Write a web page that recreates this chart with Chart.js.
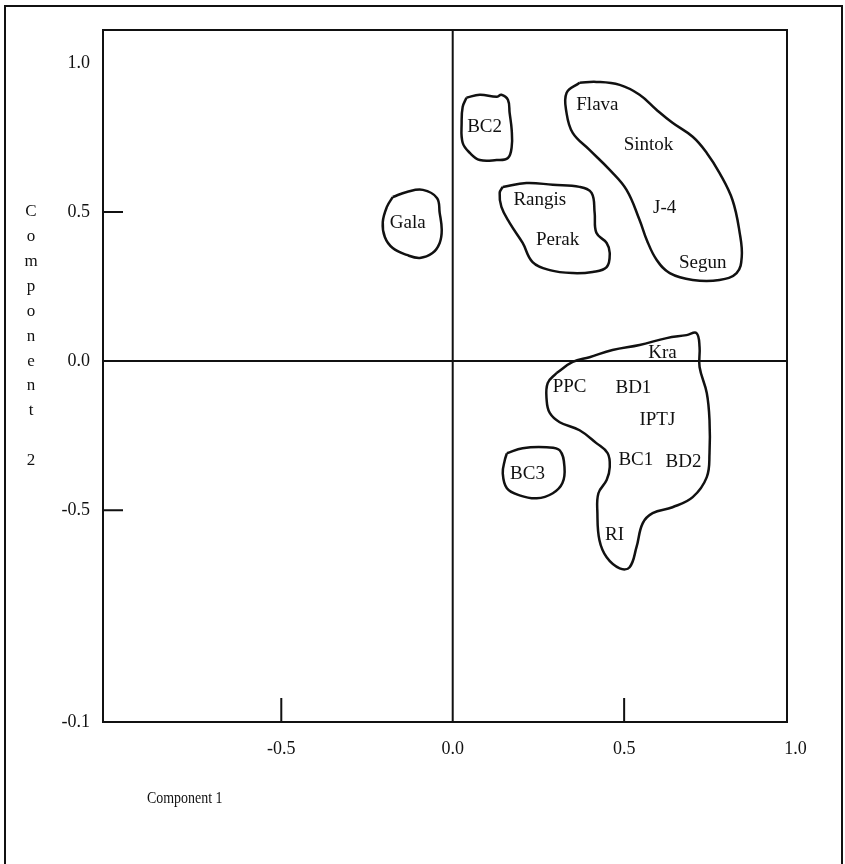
<!DOCTYPE html>
<html lang="en">
<head>
<meta charset="UTF-8">
<title>Component plot</title>
<script src="https://cdn.jsdelivr.net/npm/chart.js"></script>
<style>
  html, body { margin: 0; padding: 0; background: #fff; }
  #wrap { width: 845px; height: 864px; }
</style>
</head>
<body>
<div id="wrap"><canvas id="myChart" width="845" height="864"></canvas></div>
<script>
// cultivars: position on component 1 (x) and component 2 (y)
const names = ['BC2', 'Flava', 'Sintok', 'Rangis', 'Gala', 'J-4', 'Perak', 'Segun',
               'Kra', 'PPC', 'BD1', 'IPTJ', 'BC1', 'BD2', 'BC3', 'RI'];
const comp1 = [0.093, 0.422, 0.571, 0.254, -0.131, 0.618, 0.306, 0.729,
               0.612, 0.341, 0.527, 0.597, 0.534, 0.673, 0.218, 0.472];
const comp2 = [0.785, 0.859, 0.725, 0.540, 0.463, 0.513, 0.406, 0.329,
               0.027, -0.087, -0.091, -0.198, -0.332, -0.339, -0.379, -0.584];

// axes (bottom tick of the original is printed "-0.1")
const xMin = -1.02, xMax = 0.975;
const yMin = -1.21, yMax = 1.11;
const xTickValues = [-0.5, 0.0, 0.5, 1.0];
const xTickLabels = ['-0.5', '0.0', '0.5', '1.0'];
const yTickValues = [1.0, 0.5, 0.0, -0.5, -1.21];
const yTickLabels = ['1.0', '0.5', '0.0', '-0.5', '-0.1'];
const xMarks = [-0.5, 0.5];
const yMarks = [0.5, -0.5];
const xTitle = 'Component 1';
const yTitle = 'Component';
const yTitleNum = '2';

// hand drawn group outlines
const gBC2x = [0.040, 0.079, 0.128, 0.142, 0.161, 0.166, 0.172, 0.172, 0.161, 0.128, 0.079, 0.050, 0.029, 0.026, 0.029];
const gBC2y = [0.883, 0.893, 0.886, 0.893, 0.876, 0.832, 0.775, 0.718, 0.681, 0.674, 0.674, 0.698, 0.732, 0.799, 0.852];

const gFlavaX = [0.370, 0.419, 0.487, 0.545, 0.595, 0.641, 0.700, 0.741, 0.778, 0.816, 0.837, 0.843, 0.828,
                 0.778, 0.700, 0.633, 0.595, 0.566, 0.545, 0.507, 0.458, 0.399, 0.350, 0.332, 0.332];
const gFlavaY = [0.933, 0.936, 0.926, 0.893, 0.842, 0.799, 0.752, 0.698, 0.631, 0.540, 0.430, 0.349, 0.295,
                 0.272, 0.272, 0.295, 0.339, 0.406, 0.473, 0.574, 0.641, 0.708, 0.765, 0.832, 0.899];

const gRangisX = [0.146, 0.215, 0.292, 0.370, 0.405, 0.414, 0.419, 0.449, 0.458, 0.449, 0.408, 0.350, 0.283, 0.233, 0.204, 0.166, 0.142, 0.137];
const gRangisY = [0.584, 0.597, 0.591, 0.584, 0.564, 0.497, 0.430, 0.396, 0.362, 0.315, 0.299, 0.295, 0.305, 0.332, 0.396, 0.463, 0.517, 0.564];

const gGalaX = [-0.175, -0.134, -0.087, -0.046, -0.038, -0.032, -0.038, -0.059, -0.096, -0.134, -0.175, -0.198, -0.204, -0.192];
const gGalaY = [0.550, 0.567, 0.574, 0.547, 0.497, 0.440, 0.396, 0.362, 0.346, 0.356, 0.379, 0.416, 0.466, 0.517];

const gKraX = [0.303, 0.350, 0.399, 0.466, 0.545, 0.624, 0.682, 0.711, 0.720, 0.720, 0.741, 0.749, 0.749, 0.741, 0.700, 0.641, 0.583,
               0.554, 0.536, 0.516, 0.487, 0.449, 0.428, 0.422, 0.425, 0.449, 0.458, 0.452, 0.419, 0.370, 0.312, 0.283, 0.274, 0.277];
const gKraY = [-0.040, -0.003, 0.013, 0.037, 0.054, 0.077, 0.087, 0.094, 0.047, -0.020, -0.107, -0.198, -0.309, -0.389, -0.456, -0.490, -0.510,
               -0.544, -0.624, -0.691, -0.695, -0.658, -0.601, -0.510, -0.443, -0.399, -0.356, -0.309, -0.275, -0.232, -0.205, -0.174, -0.131, -0.074];

const gBC3x = [0.158, 0.204, 0.274, 0.312, 0.326, 0.320, 0.292, 0.245, 0.195, 0.158, 0.146, 0.152];
const gBC3y = [-0.309, -0.292, -0.289, -0.299, -0.356, -0.409, -0.443, -0.460, -0.450, -0.426, -0.376, -0.332];

const serif = '"Liberation Serif", "DejaVu Serif", serif';

// closed outline -> scatter points (first point repeated at the end)
function outline(xs, ys) {
  const pts = xs.map((x, i) => ({ x: x, y: ys[i] }));
  pts.push({ x: xs[0], y: ys[0] });
  return {
    data: pts,
    showLine: true,
    tension: 0.4,
    borderColor: '#111',
    borderWidth: 2.5,
    pointRadius: 0,
    fill: false
  };
}

const paper = {
  id: 'paper',
  beforeDraw(chart) {
    const ctx = chart.ctx;
    ctx.save();
    ctx.fillStyle = '#fff';
    ctx.fillRect(0, 0, chart.width, chart.height);
    // outer frame
    ctx.strokeStyle = '#111';
    ctx.lineWidth = 2;
    ctx.beginPath();
    ctx.moveTo(5, chart.height + 5);
    ctx.lineTo(5, 6);
    ctx.lineTo(842, 6);
    ctx.lineTo(842, chart.height + 5);
    ctx.stroke();
    ctx.restore();
  },
  afterDatasetsDraw(chart) {
    const ctx = chart.ctx;
    const a = chart.chartArea;
    const xs = chart.scales.x, ys = chart.scales.y;
    ctx.save();
    ctx.strokeStyle = '#111';
    ctx.lineWidth = 2;
    ctx.strokeRect(a.left, a.top, a.right - a.left, a.bottom - a.top);

    // cross at 0,0
    const x0 = xs.getPixelForValue(0), y0 = ys.getPixelForValue(0);
    ctx.beginPath();
    ctx.moveTo(x0, a.top); ctx.lineTo(x0, a.bottom);
    ctx.moveTo(a.left, y0); ctx.lineTo(a.right, y0);
    ctx.stroke();

    // short tick marks
    ctx.beginPath();
    xMarks.forEach(v => {
      const px = xs.getPixelForValue(v);
      ctx.moveTo(px, a.bottom); ctx.lineTo(px, a.bottom - 24);
    });
    yMarks.forEach(v => {
      const py = ys.getPixelForValue(v);
      ctx.moveTo(a.left, py); ctx.lineTo(a.left + 20, py);
    });
    ctx.stroke();

    ctx.fillStyle = '#111';
    ctx.font = '18px ' + serif;
    ctx.textBaseline = 'middle';

    // tick labels
    ctx.textAlign = 'center';
    xTickValues.forEach((v, i) => {
      ctx.fillText(xTickLabels[i], xs.getPixelForValue(v), a.bottom + 27);
    });
    ctx.textAlign = 'right';
    yTickValues.forEach((v, i) => {
      ctx.fillText(yTickLabels[i], a.left - 13, ys.getPixelForValue(v));
    });

    // axis titles
    ctx.font = '17px ' + serif;
    ctx.textAlign = 'left';
    ctx.save();
    ctx.translate(147, a.bottom + 77);
    ctx.scale(0.82, 1); // narrow face as in the print
    ctx.fillText(xTitle, 0, 0);
    ctx.restore();
    const top = ys.getPixelForValue(0.5);
    const step = (y0 - top) / 6;
    ctx.textAlign = 'center';
    yTitle.split('').forEach((c, i) => ctx.fillText(c, 31, top + i * step));
    ctx.fillText(yTitleNum, 31, top + (yTitle.length + 1) * step);

    // cultivar names
    ctx.font = '19px ' + serif;
    const meta = chart.getDatasetMeta(0);
    meta.data.forEach((el, i) => ctx.fillText(names[i], el.x, el.y));
    ctx.restore();
  }
};

new Chart(document.getElementById('myChart'), {
  type: 'scatter',
  data: {
    datasets: [
      {
        data: names.map((n, i) => ({ x: comp1[i], y: comp2[i] })),
        pointRadius: 0,
        showLine: false
      },
      outline(gBC2x, gBC2y),
      outline(gFlavaX, gFlavaY),
      outline(gRangisX, gRangisY),
      outline(gGalaX, gGalaY),
      outline(gKraX, gKraY),
      outline(gBC3x, gBC3y)
    ]
  },
  options: {
    responsive: false,
    animation: false,
    events: [],
    layout: { padding: { left: 103, top: 30, right: 58, bottom: 142 } },
    plugins: { legend: { display: false }, tooltip: { enabled: false } },
    scales: {
      x: { type: 'linear', display: false, min: xMin, max: xMax },
      y: { type: 'linear', display: false, min: yMin, max: yMax }
    }
  },
  plugins: [paper]
});
</script>
</body>
</html>
